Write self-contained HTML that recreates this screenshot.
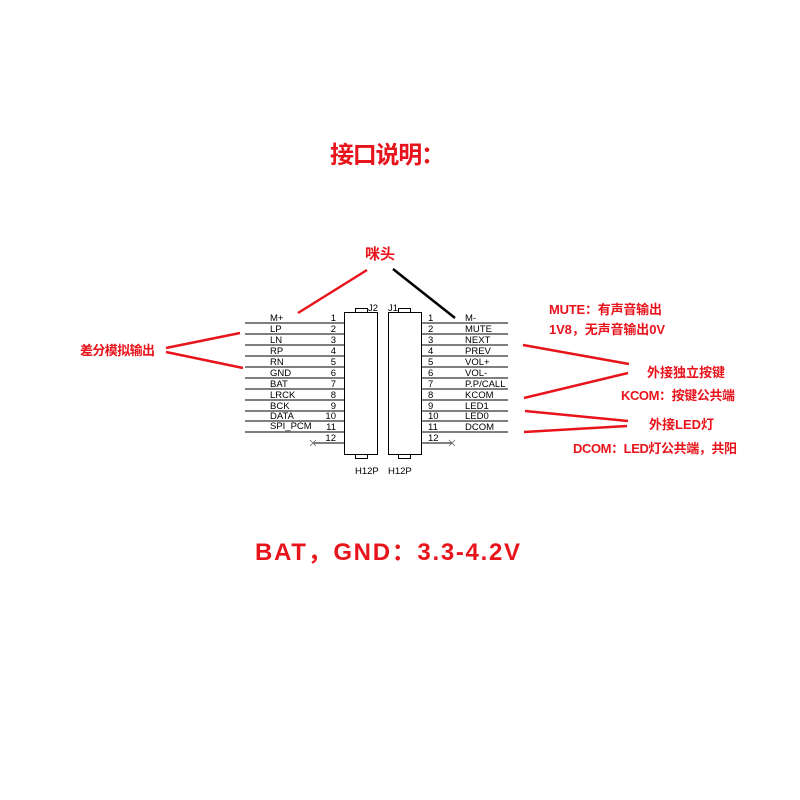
<!DOCTYPE html>
<html><head><meta charset="utf-8"><style>
html,body{margin:0;padding:0;background:#fff;width:800px;height:800px;overflow:hidden}
svg{display:block}
.r{fill:#e8141c;font-family:"Liberation Sans","Noto Sans CJK SC",sans-serif;font-weight:bold}
.k{fill:#000;font-family:"Liberation Sans",sans-serif;font-size:9.5px}
</style></head><body>
<svg width="800" height="800" viewBox="0 0 800 800" xmlns="http://www.w3.org/2000/svg">
<text class="r" x="330" y="163" font-size="24" textLength="115" lengthAdjust="spacing">接口说明：</text>
<text class="r" x="380" y="259" font-size="15" text-anchor="middle">咪头</text>
<text class="r" x="80" y="355" font-size="13" textLength="75">差分模拟输出</text>
<text class="r" x="549" y="314" font-size="13" textLength="113">MUTE：有声音输出</text>
<text class="r" x="549" y="334" font-size="13" textLength="116">1V8，无声音输出0V</text>
<text class="r" x="647" y="377" font-size="13">外接独立按键</text>
<text class="r" x="621" y="400" font-size="13" textLength="114">KCOM：按键公共端</text>
<text class="r" x="649" y="429" font-size="13">外接LED灯</text>
<text class="r" x="573" y="453" font-size="13" textLength="164">DCOM：LED灯公共端，共阳</text>
<text class="r" x="255" y="560" font-size="24" textLength="265" lengthAdjust="spacing">BAT，GND：3.3-4.2V</text>
<g stroke="#e8141c" stroke-width="2.5" fill="none">
<line x1="298" y1="313" x2="367" y2="270"/>
<line x1="166" y1="348" x2="240" y2="333"/>
<line x1="166" y1="352" x2="243" y2="368"/>
<line x1="523" y1="345" x2="629" y2="364"/>
<line x1="524" y1="398" x2="628" y2="373"/>
<line x1="525" y1="411" x2="628" y2="421"/>
<line x1="524" y1="432" x2="627" y2="426"/>
</g>
<line x1="393" y1="269" x2="455" y2="318" stroke="#000" stroke-width="2.5"/>
<g stroke="#000" stroke-width="1" fill="#fff">
<rect x="344.5" y="312.5" width="33" height="142"/>
<rect x="388.5" y="312.5" width="33" height="142"/>
<rect x="355.5" y="308.5" width="12" height="4"/>
<rect x="398.5" y="308.5" width="12" height="4"/>
<rect x="355.5" y="454.5" width="12" height="4"/>
<rect x="398.5" y="454.5" width="12" height="4"/>
</g>
<g stroke="#333" stroke-width="1.3">
<line x1="245" y1="323" x2="344" y2="323"/><line x1="245" y1="334" x2="344" y2="334"/>
<line x1="245" y1="345" x2="344" y2="345"/><line x1="245" y1="356" x2="344" y2="356"/>
<line x1="245" y1="367" x2="344" y2="367"/><line x1="245" y1="378" x2="344" y2="378"/>
<line x1="245" y1="389" x2="344" y2="389"/><line x1="245" y1="400" x2="344" y2="400"/>
<line x1="245" y1="411" x2="344" y2="411"/><line x1="245" y1="421" x2="344" y2="421"/>
<line x1="245" y1="432" x2="344" y2="432"/><line x1="314" y1="443" x2="344" y2="443"/>
<line x1="422" y1="323" x2="508" y2="323"/><line x1="422" y1="334" x2="508" y2="334"/>
<line x1="422" y1="345" x2="508" y2="345"/><line x1="422" y1="356" x2="508" y2="356"/>
<line x1="422" y1="367" x2="508" y2="367"/><line x1="422" y1="378" x2="508" y2="378"/>
<line x1="422" y1="389" x2="508" y2="389"/><line x1="422" y1="400" x2="508" y2="400"/>
<line x1="422" y1="411" x2="508" y2="411"/><line x1="422" y1="421" x2="508" y2="421"/>
<line x1="422" y1="432" x2="508" y2="432"/><line x1="422" y1="443" x2="452" y2="443"/>
</g>
<g stroke="#666" stroke-width="0.8">
<line x1="310" y1="440" x2="316" y2="446"/><line x1="316" y1="440" x2="310" y2="446"/>
<line x1="449" y1="440" x2="455" y2="446"/><line x1="455" y1="440" x2="449" y2="446"/>
</g>
<g class="k">
<text x="270" y="321">M+</text><text x="270" y="332">LP</text><text x="270" y="343">LN</text>
<text x="270" y="354">RP</text><text x="270" y="365">RN</text><text x="270" y="376">GND</text>
<text x="270" y="387">BAT</text><text x="270" y="398">LRCK</text><text x="270" y="409">BCK</text>
<text x="270" y="419">DATA</text><text x="270" y="429">SPI_PCM</text>
</g>
<g class="k" text-anchor="end">
<text x="336" y="321">1</text><text x="336" y="332">2</text><text x="336" y="343">3</text>
<text x="336" y="354">4</text><text x="336" y="365">5</text><text x="336" y="376">6</text>
<text x="336" y="387">7</text><text x="336" y="398">8</text><text x="336" y="409">9</text>
<text x="336" y="419">10</text><text x="336" y="430">11</text><text x="336" y="441">12</text>
</g>
<g class="k">
<text x="428" y="321">1</text><text x="428" y="332">2</text><text x="428" y="343">3</text>
<text x="428" y="354">4</text><text x="428" y="365">5</text><text x="428" y="376">6</text>
<text x="428" y="387">7</text><text x="428" y="398">8</text><text x="428" y="409">9</text>
<text x="428" y="419">10</text><text x="428" y="430">11</text><text x="428" y="441">12</text>
<text x="465" y="321">M-</text><text x="465" y="332">MUTE</text><text x="465" y="343">NEXT</text>
<text x="465" y="354">PREV</text><text x="465" y="365">VOL+</text><text x="465" y="376">VOL-</text>
<text x="465" y="387">P.P/CALL</text><text x="465" y="398">KCOM</text><text x="465" y="409">LED1</text>
<text x="465" y="419">LED0</text><text x="465" y="430">DCOM</text>
<text x="368" y="311">J2</text><text x="388" y="311">J1</text>
<text x="355" y="474">H12P</text><text x="388" y="474">H12P</text>
</g>
</svg>
</body></html>
